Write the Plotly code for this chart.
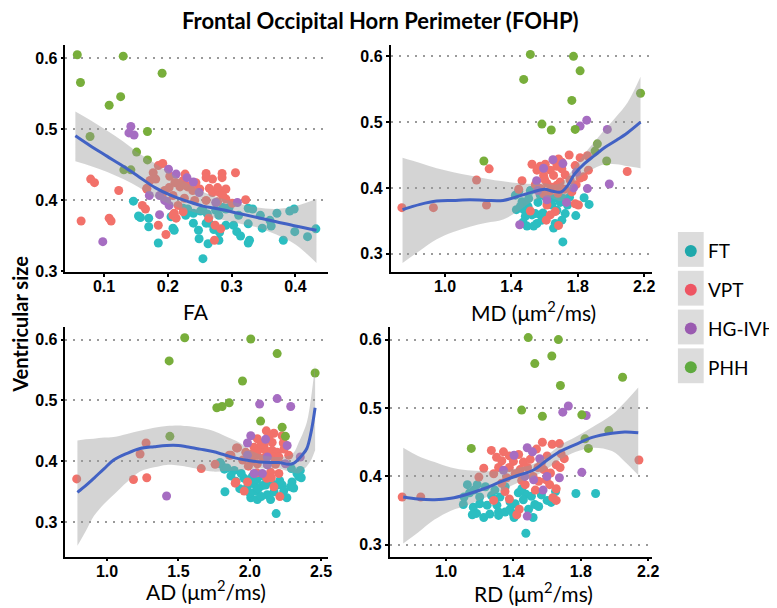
import plotly.graph_objects as go

groups = ["FT", "VPT", "HG-IVH", "PHH"]
colors = {"FT": "#2BBEC1", "VPT": "#F2716A", "HG-IVH": "#A66DC2", "PHH": "#78AE3B"}
key_colors = {"FT": "#1FA8AB", "VPT": "#EE5563", "HG-IVH": "#9A5BB0", "PHH": "#5FAA3F"}

# ---------------- Panel 1: FA ----------------
fa_phh_x = [0.058, 0.063, 0.108, 0.126, 0.130, 0.191, 0.078, 0.168, 0.151, 0.168, 0.131, 0.142]
fa_phh_y = [0.605, 0.566, 0.534, 0.546, 0.603, 0.579, 0.490, 0.497, 0.468, 0.457, 0.443, 0.443]
fa_hg_x = [0.142, 0.139, 0.147, 0.098, 0.187, 0.201, 0.213, 0.230, 0.240, 0.171, 0.187, 0.249, 0.195, 0.202, 0.275, 0.309, 0.198]
fa_hg_y = [0.504, 0.495, 0.492, 0.342, 0.380, 0.444, 0.437, 0.432, 0.426, 0.407, 0.407, 0.411, 0.400, 0.393, 0.397, 0.397, 0.399]
fa_vpt_x = [0.064, 0.079, 0.085, 0.108, 0.111, 0.123, 0.160, 0.165, 0.167, 0.185, 0.197, 0.177, 0.185, 0.192, 0.260, 0.260,
            0.285, 0.285, 0.306, 0.322, 0.273, 0.283, 0.274, 0.264, 0.208, 0.213, 0.224, 0.211, 0.224, 0.227, 0.239, 0.250,
            0.270, 0.281, 0.291, 0.278, 0.291, 0.181, 0.208, 0.219, 0.231, 0.242, 0.260, 0.192, 0.203, 0.172, 0.195, 0.202,
            0.216, 0.226, 0.265, 0.286, 0.270, 0.278, 0.301, 0.244, 0.229, 0.213, 0.167, 0.210]
fa_vpt_y = [0.371, 0.430, 0.425, 0.375, 0.371, 0.414, 0.393, 0.388, 0.416, 0.365, 0.352, 0.439, 0.449, 0.452, 0.438, 0.432,
            0.438, 0.432, 0.439, 0.401, 0.344, 0.360, 0.365, 0.375, 0.379, 0.375, 0.384, 0.425, 0.428, 0.437, 0.414, 0.416,
            0.411, 0.411, 0.416, 0.398, 0.402, 0.430, 0.407, 0.419, 0.419, 0.400, 0.400, 0.410, 0.434, 0.428, 0.414, 0.418,
            0.393, 0.403, 0.417, 0.407, 0.430, 0.418, 0.396, 0.425, 0.421, 0.425, 0.417, 0.382]
fa_ft_x = [0.146, 0.154, 0.157, 0.170, 0.170, 0.185, 0.208, 0.210, 0.240, 0.248, 0.249, 0.255, 0.263, 0.260, 0.265, 0.272,
           0.280, 0.281, 0.291, 0.303, 0.308, 0.314, 0.326, 0.328, 0.326, 0.311, 0.326, 0.333, 0.345, 0.348, 0.360, 0.362,
           0.371, 0.381, 0.391, 0.398, 0.399, 0.419, 0.432, 0.275, 0.286, 0.296, 0.255, 0.262, 0.240, 0.224, 0.231, 0.228,
           0.251, 0.205, 0.280, 0.291]
fa_ft_y = [0.399, 0.378, 0.376, 0.375, 0.363, 0.340, 0.361, 0.358, 0.368, 0.358, 0.346, 0.318, 0.339, 0.368, 0.368, 0.359,
           0.344, 0.355, 0.365, 0.365, 0.356, 0.350, 0.340, 0.344, 0.367, 0.379, 0.389, 0.388, 0.379, 0.361, 0.372, 0.364,
           0.382, 0.344, 0.385, 0.388, 0.356, 0.349, 0.360, 0.386, 0.390, 0.390, 0.386, 0.381, 0.382, 0.389, 0.388, 0.379,
           0.385, 0.377, 0.379, 0.388]
fa_fit_x = [0.055, 0.08, 0.105, 0.13, 0.155, 0.18, 0.205, 0.23, 0.255, 0.28, 0.31, 0.34, 0.37, 0.40, 0.433]
fa_fit_y = [0.491, 0.476, 0.462, 0.448, 0.433, 0.418, 0.407, 0.399, 0.392, 0.388, 0.382, 0.376, 0.370, 0.364, 0.358]
fa_fit_hi = [0.525, 0.512, 0.498, 0.483, 0.466, 0.452, 0.438, 0.424, 0.412, 0.404, 0.396, 0.390, 0.388, 0.392, 0.402]
fa_fit_lo = [0.455, 0.448, 0.440, 0.430, 0.418, 0.404, 0.394, 0.386, 0.380, 0.374, 0.368, 0.362, 0.352, 0.338, 0.312]

# ---------------- Panel 2: MD ----------------
md_phh_x = [1.514, 1.774, 1.474, 1.814, 1.764, 1.584, 1.640, 1.784, 1.234, 1.918, 1.904, 1.974, 2.178]
md_phh_y = [0.603, 0.600, 0.565, 0.578, 0.533, 0.497, 0.488, 0.489, 0.441, 0.467, 0.456, 0.441, 0.544]
md_hg_x = [1.814, 1.854, 1.978, 1.990, 1.858, 1.450, 1.650, 1.710, 1.594, 1.552, 1.792, 1.774, 1.732, 1.614, 1.558]
md_hg_y = [0.494, 0.503, 0.489, 0.406, 0.399, 0.344, 0.443, 0.437, 0.430, 0.411, 0.424, 0.400, 0.378, 0.382, 0.396]
md_vpt_x = [0.740, 0.930, 1.190, 1.266, 1.250, 1.444, 1.464, 1.524, 1.604, 1.748, 1.814, 1.858, 1.704, 1.674, 1.634, 1.594,
            1.654, 1.724, 1.694, 1.754, 1.814, 1.834, 1.864, 1.614, 1.644, 1.674, 1.574, 1.594, 1.614, 1.514, 1.664, 1.634,
            1.610, 1.684, 1.784, 1.804, 1.764, 2.098, 1.554, 1.574, 1.654, 1.684, 1.704, 1.784, 1.544, 1.720, 1.680, 1.630,
            1.790, 1.600]
md_vpt_y = [0.370, 0.370, 0.412, 0.429, 0.374, 0.398, 0.411, 0.436, 0.436, 0.450, 0.446, 0.449, 0.439, 0.433, 0.427, 0.419,
            0.419, 0.420, 0.409, 0.412, 0.415, 0.417, 0.427, 0.407, 0.401, 0.404, 0.399, 0.391, 0.374, 0.365, 0.364, 0.359,
            0.351, 0.343, 0.376, 0.374, 0.394, 0.425, 0.427, 0.433, 0.442, 0.444, 0.429, 0.434, 0.405, 0.398, 0.392, 0.395,
            0.405, 0.413]
md_ft_x = [1.424, 1.464, 1.430, 1.474, 1.514, 1.504, 1.484, 1.470, 1.494, 1.524, 1.544, 1.554, 1.574, 1.574, 1.604, 1.624,
           1.654, 1.684, 1.644, 1.674, 1.724, 1.704, 1.664, 1.654, 1.714, 1.738, 1.788, 1.838, 1.868, 1.710, 1.534, 1.584,
           1.444, 1.454, 1.500, 1.590, 1.620, 1.694, 1.750, 1.560]
md_ft_y = [0.389, 0.379, 0.367, 0.367, 0.396, 0.384, 0.357, 0.348, 0.342, 0.359, 0.361, 0.346, 0.359, 0.389, 0.387, 0.389,
           0.384, 0.389, 0.374, 0.366, 0.361, 0.351, 0.346, 0.339, 0.384, 0.374, 0.358, 0.385, 0.375, 0.318, 0.342, 0.351,
           0.395, 0.372, 0.372, 0.362, 0.380, 0.378, 0.386, 0.378]
md_fit_x = [0.744, 0.85, 0.95, 1.05, 1.15, 1.25, 1.35, 1.45, 1.53, 1.60, 1.65, 1.70, 1.74, 1.78, 1.84, 1.90, 1.96, 2.03, 2.10, 2.178]
md_fit_y = [0.367, 0.375, 0.380, 0.381, 0.382, 0.381, 0.381, 0.388, 0.394, 0.398, 0.395, 0.394, 0.404, 0.421, 0.437, 0.449, 0.461, 0.472, 0.484, 0.500]
md_fit_hi = [0.446, 0.438, 0.430, 0.424, 0.419, 0.414, 0.410, 0.407, 0.406, 0.407, 0.405, 0.408, 0.418, 0.432, 0.452, 0.470, 0.488, 0.508, 0.530, 0.569]
md_fit_lo = [0.286, 0.305, 0.322, 0.333, 0.341, 0.347, 0.352, 0.366, 0.380, 0.386, 0.384, 0.380, 0.390, 0.408, 0.422, 0.430, 0.436, 0.436, 0.433, 0.430]

# ---------------- Panel 3: AD ----------------
ad_phh_x = [1.544, 2.007, 1.435, 2.192, 1.949, 1.769, 1.806, 1.856, 2.076, 2.227, 2.250, 1.440, 2.458]
ad_phh_y = [0.603, 0.601, 0.565, 0.577, 0.532, 0.488, 0.490, 0.496, 0.466, 0.456, 0.441, 0.441, 0.545]
ad_hg_x = [1.417, 2.069, 2.192, 2.287, 2.007, 1.984, 2.111, 2.262, 1.984, 2.123, 2.354, 2.123, 2.088, 2.250, 2.030]
ad_hg_y = [0.343, 0.494, 0.503, 0.490, 0.442, 0.430, 0.436, 0.426, 0.410, 0.407, 0.407, 0.394, 0.380, 0.396, 0.380]
ad_vpt_x = [0.787, 1.185, 1.278, 1.273, 1.231, 1.660, 1.757, 1.898, 1.961, 1.907, 1.856, 2.116, 2.169, 2.227, 2.053, 2.100,
            2.157, 1.914, 1.972, 2.030, 2.065, 2.111, 2.157, 2.192, 2.018, 2.053, 2.169, 2.204, 2.273, 2.018, 2.053, 1.868,
            2.049, 2.146, 2.204, 2.151, 1.903, 1.984, 2.169, 2.211, 2.080, 2.135, 2.095, 2.180, 2.240, 1.990, 2.120, 2.235,
            1.950]
ad_vpt_y = [0.371, 0.370, 0.373, 0.430, 0.412, 0.388, 0.395, 0.364, 0.351, 0.422, 0.410, 0.450, 0.446, 0.442, 0.437, 0.426,
            0.431, 0.422, 0.415, 0.423, 0.420, 0.418, 0.418, 0.415, 0.412, 0.410, 0.407, 0.407, 0.410, 0.400, 0.396, 0.410,
            0.381, 0.382, 0.380, 0.373, 0.366, 0.366, 0.358, 0.342, 0.428, 0.440, 0.405, 0.395, 0.420, 0.392, 0.372, 0.430,
            0.402]
ad_ft_x = [1.800, 1.822, 1.891, 1.868, 1.903, 1.961, 1.984, 2.030, 2.042, 2.007, 2.053, 2.111, 2.123, 2.192, 2.146, 2.227,
           2.238, 2.296, 2.308, 2.331, 2.354, 2.361, 2.292, 2.185, 1.826, 2.018, 2.088, 1.792, 1.840, 2.343, 2.285, 2.060,
           2.080, 2.170, 2.210, 1.940, 2.000, 2.150, 2.260, 1.930, 2.100, 2.050]
ad_ft_y = [0.395, 0.387, 0.385, 0.376, 0.367, 0.372, 0.358, 0.363, 0.351, 0.340, 0.337, 0.361, 0.345, 0.361, 0.337, 0.361,
           0.351, 0.366, 0.356, 0.380, 0.385, 0.373, 0.388, 0.314, 0.350, 0.375, 0.360, 0.398, 0.389, 0.375, 0.358, 0.355,
           0.342, 0.350, 0.368, 0.380, 0.348, 0.366, 0.340, 0.355, 0.375, 0.370]
ad_fit_x = [0.792, 0.85, 0.907, 0.98, 1.046, 1.14, 1.231, 1.33, 1.417, 1.50, 1.556, 1.65, 1.741, 1.83, 1.926, 2.00, 2.065,
            2.14, 2.204, 2.273, 2.31, 2.343, 2.37, 2.40, 2.43, 2.458]
ad_fit_y = [0.349, 0.360, 0.372, 0.388, 0.402, 0.413, 0.421, 0.424, 0.426, 0.426, 0.424, 0.420, 0.416, 0.410, 0.404, 0.401,
            0.399, 0.398, 0.398, 0.395, 0.397, 0.404, 0.411, 0.421, 0.448, 0.488]
ad_fit_hi = [0.434, 0.436, 0.437, 0.439, 0.440, 0.445, 0.450, 0.455, 0.458, 0.459, 0.458, 0.455, 0.450, 0.441, 0.431, 0.419,
             0.412, 0.408, 0.407, 0.409, 0.415, 0.431, 0.445, 0.464, 0.505, 0.559]
ad_fit_lo = [0.261, 0.285, 0.310, 0.330, 0.345, 0.366, 0.383, 0.390, 0.394, 0.393, 0.391, 0.387, 0.383, 0.384, 0.385, 0.387,
             0.388, 0.388, 0.388, 0.383, 0.381, 0.380, 0.385, 0.392, 0.402, 0.418]

# ---------------- Panel 4: RD ----------------
rd_phh_x = [1.488, 1.667, 1.527, 1.628, 1.679, 1.449, 1.572, 1.806, 1.825, 1.845, 1.966, 2.048, 1.150]
rd_phh_y = [0.603, 0.600, 0.565, 0.576, 0.533, 0.497, 0.488, 0.490, 0.455, 0.441, 0.467, 0.545, 0.441]
rd_hg_x = [1.726, 1.693, 1.832, 1.806, 1.482, 1.513, 1.404, 1.341, 1.556, 1.599, 1.673, 1.468, 1.576, 1.482, 1.520]
rd_hg_y = [0.503, 0.494, 0.489, 0.406, 0.442, 0.436, 0.431, 0.409, 0.426, 0.400, 0.398, 0.400, 0.380, 0.342, 0.395]
rd_vpt_x = [0.740, 0.850, 2.145, 1.702, 1.572, 1.630, 1.673, 1.269, 1.341, 1.376, 1.431, 1.537, 1.331, 1.400, 1.459, 1.566,
            1.683, 1.312, 1.376, 1.484, 1.546, 1.654, 1.677, 1.224, 1.283, 1.195, 1.410, 1.449, 1.517, 1.550, 1.595, 1.615,
            1.654, 1.283, 1.376, 1.435, 1.420, 1.634, 1.654, 1.360, 1.330, 1.500, 1.600, 1.440, 1.620, 1.530, 1.470, 1.300,
            1.580, 1.350]
rd_vpt_y = [0.370, 0.370, 0.424, 0.426, 0.450, 0.447, 0.448, 0.438, 0.436, 0.430, 0.432, 0.440, 0.423, 0.422, 0.421, 0.420,
            0.433, 0.413, 0.413, 0.413, 0.413, 0.417, 0.413, 0.412, 0.404, 0.399, 0.404, 0.394, 0.400, 0.393, 0.395, 0.388,
            0.382, 0.365, 0.367, 0.352, 0.344, 0.369, 0.365, 0.398, 0.390, 0.425, 0.430, 0.410, 0.405, 0.380, 0.388, 0.428,
            0.410, 0.378]
rd_ft_x = [1.127, 1.185, 1.166, 1.234, 1.107, 1.103, 1.162, 1.181, 1.156, 1.224, 1.244, 1.302, 1.312, 1.351, 1.380, 1.429,
           1.474, 1.507, 1.527, 1.459, 1.404, 1.566, 1.650, 1.771, 1.888, 1.351, 1.474, 1.624, 1.517, 1.400, 1.312, 1.140,
           1.200, 1.270, 1.320, 1.410, 1.490, 1.550, 1.600, 1.260, 1.200, 1.380, 1.450, 1.290]
rd_ft_y = [0.388, 0.388, 0.380, 0.385, 0.370, 0.359, 0.355, 0.346, 0.344, 0.340, 0.358, 0.358, 0.348, 0.348, 0.363, 0.376,
           0.374, 0.371, 0.359, 0.366, 0.340, 0.373, 0.378, 0.375, 0.375, 0.385, 0.317, 0.362, 0.340, 0.345, 0.343, 0.376,
           0.370, 0.372, 0.370, 0.360, 0.352, 0.356, 0.365, 0.345, 0.360, 0.352, 0.382, 0.380]
rd_fit_x = [0.746, 0.834, 0.932, 1.029, 1.127, 1.224, 1.322, 1.42, 1.517, 1.595, 1.673, 1.771, 1.868, 1.985, 2.06, 2.141]
rd_fit_y = [0.370, 0.367, 0.366, 0.368, 0.374, 0.382, 0.392, 0.401, 0.409, 0.423, 0.436, 0.447, 0.457, 0.463, 0.465, 0.464]
rd_fit_hi = [0.442, 0.430, 0.421, 0.413, 0.409, 0.408, 0.408, 0.412, 0.418, 0.430, 0.445, 0.458, 0.472, 0.490, 0.508, 0.530]
rd_fit_lo = [0.302, 0.318, 0.337, 0.350, 0.358, 0.368, 0.378, 0.390, 0.399, 0.410, 0.424, 0.436, 0.442, 0.437, 0.422, 0.402]

y_ticks = [0.3, 0.4, 0.5, 0.6]
y_tick_text = ["0.3", "0.4", "0.5", "0.6"]
x_ticks = {
    1: ([0.1, 0.2, 0.3, 0.4], ["0.1", "0.2", "0.3", "0.4"]),
    2: ([1.0, 1.4, 1.8, 2.2], ["1.0", "1.4", "1.8", "2.2"]),
    3: ([1.0, 1.5, 2.0, 2.5], ["1.0", "1.5", "2.0", "2.5"]),
    4: ([1.0, 1.4, 1.8, 2.2], ["1.0", "1.4", "1.8", "2.2"]),
}
x_titles = ["FA", "MD (μm<sup>2</sup>/ms)", "AD (μm<sup>2</sup>/ms)", "RD (μm<sup>2</sup>/ms)"]

panels = [
    dict(pts={"FT": (fa_ft_x, fa_ft_y), "VPT": (fa_vpt_x, fa_vpt_y), "HG-IVH": (fa_hg_x, fa_hg_y), "PHH": (fa_phh_x, fa_phh_y)},
         fit=(fa_fit_x, fa_fit_y, fa_fit_lo, fa_fit_hi)),
    dict(pts={"FT": (md_ft_x, md_ft_y), "VPT": (md_vpt_x, md_vpt_y), "HG-IVH": (md_hg_x, md_hg_y), "PHH": (md_phh_x, md_phh_y)},
         fit=(md_fit_x, md_fit_y, md_fit_lo, md_fit_hi)),
    dict(pts={"FT": (ad_ft_x, ad_ft_y), "VPT": (ad_vpt_x, ad_vpt_y), "HG-IVH": (ad_hg_x, ad_hg_y), "PHH": (ad_phh_x, ad_phh_y)},
         fit=(ad_fit_x, ad_fit_y, ad_fit_lo, ad_fit_hi)),
    dict(pts={"FT": (rd_ft_x, rd_ft_y), "VPT": (rd_vpt_x, rd_vpt_y), "HG-IVH": (rd_hg_x, rd_hg_y), "PHH": (rd_phh_x, rd_phh_y)},
         fit=(rd_fit_x, rd_fit_y, rd_fit_lo, rd_fit_hi)),
]

W, H = 777, 608
geom = [
    ((58, 323, 37, 268), [0.0395, 0.4512], [0.2986, 0.6194]),
    ((386, 650, 37, 268), [0.6716, 2.248], [0.2715, 0.618]),
    ((58, 323, 323, 556), [0.7083, 2.549], [0.2432, 0.6211]),
    ((385, 650, 323, 556), [0.6647, 2.2235], [0.2827, 0.6188]),
]
title_pos = [(190, 308), (530, 307), (200, 590), (530, 592)]

fig = go.Figure()
for i, p in enumerate(panels):
    k = i + 1
    xa = "x" if k == 1 else f"x{k}"
    ya = "y" if k == 1 else f"y{k}"
    for g in groups:
        xs, ys = p["pts"][g]
        fig.add_trace(go.Scatter(
            x=xs, y=ys, mode="markers", name=g, showlegend=False,
            marker=dict(color=colors[g], size=9, line=dict(width=0)),
            xaxis=xa, yaxis=ya))
    fx, fy, flo, fhi = p["fit"]
    fig.add_trace(go.Scatter(x=fx, y=flo, mode="lines", line=dict(width=0, shape="spline"),
                             showlegend=False, hoverinfo="skip", xaxis=xa, yaxis=ya))
    fig.add_trace(go.Scatter(x=fx, y=fhi, mode="lines", line=dict(width=0, shape="spline"),
                             fill="tonexty", fillcolor="rgba(153,153,153,0.42)",
                             showlegend=False, hoverinfo="skip", xaxis=xa, yaxis=ya))
    fig.add_trace(go.Scatter(x=fx, y=fy, mode="lines", line=dict(color="#4262C4", width=3, shape="spline"),
                             showlegend=False, hoverinfo="skip", xaxis=xa, yaxis=ya))

# legend keys on their own small categorical axis
fig.add_trace(go.Scatter(
    x=["key"] * len(groups), y=groups, mode="markers", showlegend=False, hoverinfo="skip",
    marker=dict(color=[key_colors[g] for g in groups], size=12, line=dict(width=0)),
    xaxis="x5", yaxis="y5"))

tickfont = dict(family="Liberation Sans, Arial", size=16, color="black", weight="bold")
for i, ((l, r, t, b), xr, yr) in enumerate(geom):
    k = i + 1
    xname = "xaxis" if k == 1 else f"xaxis{k}"
    yname = "yaxis" if k == 1 else f"yaxis{k}"
    tv, tt = x_ticks[k]
    fig.layout[xname] = dict(
        domain=[l / W, r / W], range=xr, anchor="y" if k == 1 else f"y{k}",
        tickvals=tv, ticktext=tt, ticks="outside", ticklen=3, tickcolor="black", tickwidth=1.5,
        showline=True, linecolor="black", linewidth=1.5, showgrid=False, zeroline=False,
        ticklabelstandoff=-4, tickfont=tickfont, fixedrange=True)
    fig.layout[yname] = dict(
        domain=[1 - b / H, 1 - t / H], range=yr, anchor="x" if k == 1 else f"x{k}",
        tickvals=y_ticks, ticktext=y_tick_text, ticks="outside", ticklen=3,
        tickcolor="black", tickwidth=1.5,
        showline=True, linecolor="black", linewidth=1.5, showgrid=True, gridcolor="#9a9a9a",
        griddash="2px,6px", gridwidth=2, zeroline=False, tickfont=tickfont, fixedrange=True)

key_top, key_step = 226.5, 39.3
fig.layout["xaxis5"] = dict(domain=[676 / W, 702 / W], type="category", visible=False, anchor="y5", fixedrange=True)
fig.layout["yaxis5"] = dict(domain=[1 - (key_top + 4 * key_step) / H, 1 - key_top / H], type="category",
                            categoryarray=groups, range=[3.5, -0.5], visible=False, anchor="x5", fixedrange=True)

annotations = []
for (xp, yp), txt in zip(title_pos, x_titles):
    annotations.append(dict(text=txt, x=xp / W, y=1 - yp / H, xref="paper", yref="paper",
                            showarrow=False, xanchor="center", yanchor="middle",
                            font=dict(family="Lato", size=21, color="black")))
for g in groups:
    annotations.append(dict(text=g, x=704 / W, y=g, xref="paper", yref="y5", showarrow=False,
                            xanchor="left", yanchor="middle",
                            font=dict(family="Lato", size=19, color="black")))
annotations.append(dict(text="Ventricular size", x=12 / W, y=1 - 320 / H, xref="paper", yref="paper",
                        showarrow=False, textangle=-90, xanchor="center", yanchor="middle",
                        font=dict(family="Lato", size=20, color="black", weight="bold")))
annotations.append(dict(text="Frontal Occipital Horn Perimeter (FOHP)", x=376 / W, y=1 - 13 / H,
                        xref="paper", yref="paper", showarrow=False, xanchor="center", yanchor="middle",
                        font=dict(family="Lato", size=22, color="black", weight="bold")))

shapes = []
for j in range(len(groups)):
    top = key_top + j * key_step + 0.5
    bot = top + key_step - 4
    shapes.append(dict(type="rect", xref="paper", yref="paper", x0=676 / W, x1=702 / W,
                       y0=1 - bot / H, y1=1 - top / H, fillcolor="#DCDCDC", line=dict(width=0), layer="below"))

fig.update_layout(
    width=W, height=H, margin=dict(l=0, r=0, t=0, b=0),
    paper_bgcolor="white", plot_bgcolor="white",
    annotations=annotations, shapes=shapes, showlegend=False,
)

fig.write_html("out.html")
